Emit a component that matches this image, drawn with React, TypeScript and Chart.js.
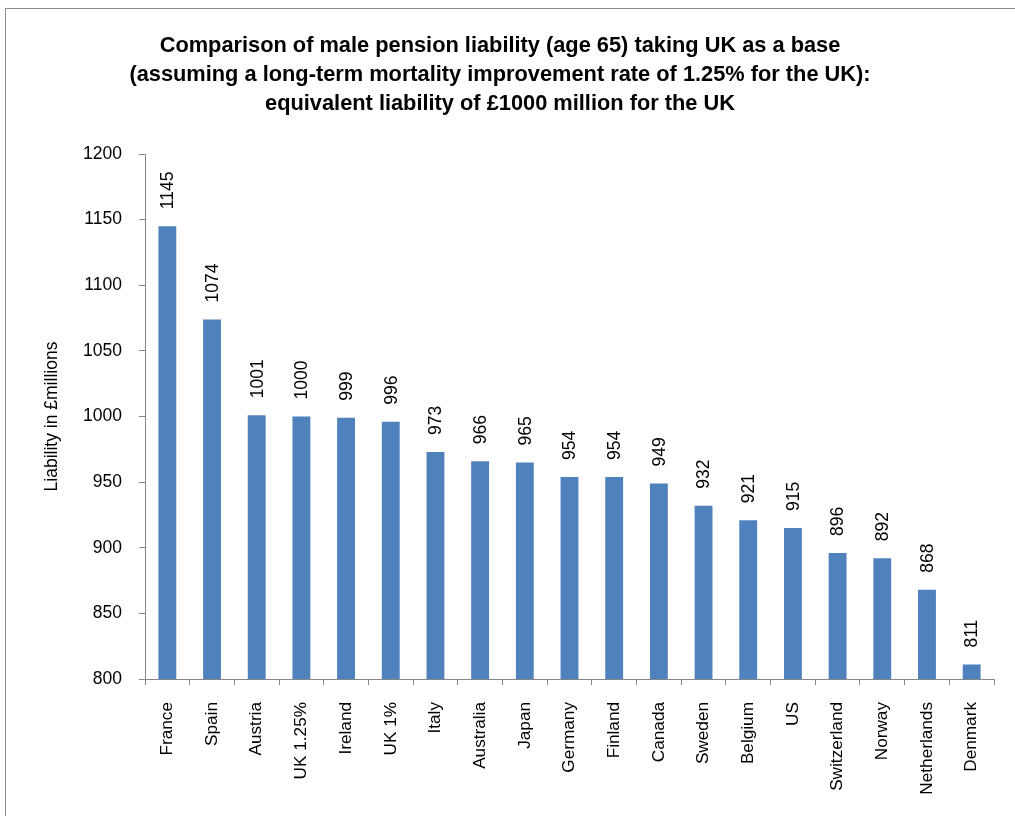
import React, { useEffect, useRef } from "react";
import { Chart, registerables } from "chart.js";

Chart.register(...registerables);

const categories = [
  "France", "Spain", "Austria", "UK 1.25%", "Ireland", "UK 1%", "Italy", "Australia",
  "Japan", "Germany", "Finland", "Canada", "Sweden", "Belgium", "US", "Switzerland",
  "Norway", "Netherlands", "Denmark",
];
const liability = [
  1145, 1074, 1001, 1000, 999, 996, 973, 966, 965, 954, 954, 949, 932, 921, 915, 896, 892, 868, 811,
];
const titleLines = [
  "Comparison of male pension liability (age 65) taking UK as a base",
  "(assuming a long-term mortality improvement rate of 1.25% for the UK):",
  "equivalent liability of £1000 million for the UK",
];
const yAxisTitle = "Liability in £millions";
const yMin = 800;
const yMax = 1200;
const yStep = 50;

const FONT = "'Liberation Sans', Arial, sans-serif";
const AXIS_COLOR = "#868686";
const BAR_COLOR = "#4F81BD";

const valueLabels = {
  id: "valueLabels",
  afterDatasetsDraw(chart: any) {
    const ctx = chart.ctx;
    const meta = chart.getDatasetMeta(0);
    ctx.save();
    ctx.font = `17.5px ${FONT}`;
    ctx.fillStyle = "#000";
    ctx.textAlign = "left";
    ctx.textBaseline = "middle";
    meta.data.forEach((bar: any, i: number) => {
      ctx.save();
      ctx.translate(bar.x, bar.y - 17);
      ctx.rotate(-Math.PI / 2);
      ctx.fillText(String(liability[i]), 0, 1);
      ctx.restore();
    });
    ctx.restore();
  },
};

export default function App() {
  const ref = useRef<HTMLCanvasElement | null>(null);
  useEffect(() => {
    if (!ref.current) return;
    const chart = new Chart(ref.current, {
      type: "bar",
      data: {
        labels: categories,
        datasets: [
          {
            data: liability,
            backgroundColor: BAR_COLOR,
            borderWidth: 0,
            barPercentage: 0.4,
            categoryPercentage: 1,
          },
        ],
      },
      options: {
        responsive: false,
        animation: false,
        layout: { padding: { left: 0, right: 28, top: 0, bottom: 0 } },
        plugins: {
          legend: { display: false },
          tooltip: { enabled: false },
          title: {
            display: true,
            text: titleLines,
            color: "#000",
            font: { family: FONT, size: 21.8, weight: "bold", lineHeight: 29 / 21.8 },
            padding: { top: 22, bottom: 36 },
          },
        },
        scales: {
          x: {
            offset: true,
            grid: {
              display: true,
              drawOnChartArea: false,
              drawTicks: true,
              tickLength: 6,
              color: AXIS_COLOR,
              offset: true,
            },
            border: { display: true, color: AXIS_COLOR, width: 1 },
            ticks: {
              color: "#000",
              font: { family: FONT, size: 17.2 },
              minRotation: 90,
              maxRotation: 90,
              autoSkip: false,
              padding: 17,
            },
            afterFit: (s: any) => {
              s.height = 137;
            },
          },
          y: {
            min: yMin,
            max: yMax,
            grid: {
              display: true,
              drawOnChartArea: false,
              drawTicks: true,
              tickLength: 6,
              color: AXIS_COLOR,
            },
            border: { display: true, color: AXIS_COLOR, width: 1 },
            ticks: {
              stepSize: yStep,
              color: "#000",
              font: { family: FONT, size: 17.5 },
              padding: 17,
              callback: (v: any) => String(v),
            },
            title: {
              display: true,
              text: yAxisTitle,
              color: "#000",
              font: { family: FONT, size: 17.5 },
              padding: { top: 36, bottom: 0 },
            },
            afterFit: (s: any) => {
              s.width = 139;
            },
          },
        },
      },
      plugins: [valueLabels],
    });
    return () => chart.destroy();
  }, []);

  return (
    <div
      style={{
        position: "fixed",
        left: 0,
        top: 0,
        width: 1015,
        height: 816,
        overflow: "hidden",
        background: "#fff",
      }}
    >
      <div
        style={{
          position: "absolute",
          left: 5,
          top: 8,
          width: 1040,
          height: 840,
          borderLeft: "1px solid #8c8c8c",
          borderTop: "1px solid #8c8c8c",
          boxSizing: "border-box",
        }}
      >
        <canvas ref={ref} width={1016} height={807} style={{ display: "block" }} />
      </div>
    </div>
  );
}
